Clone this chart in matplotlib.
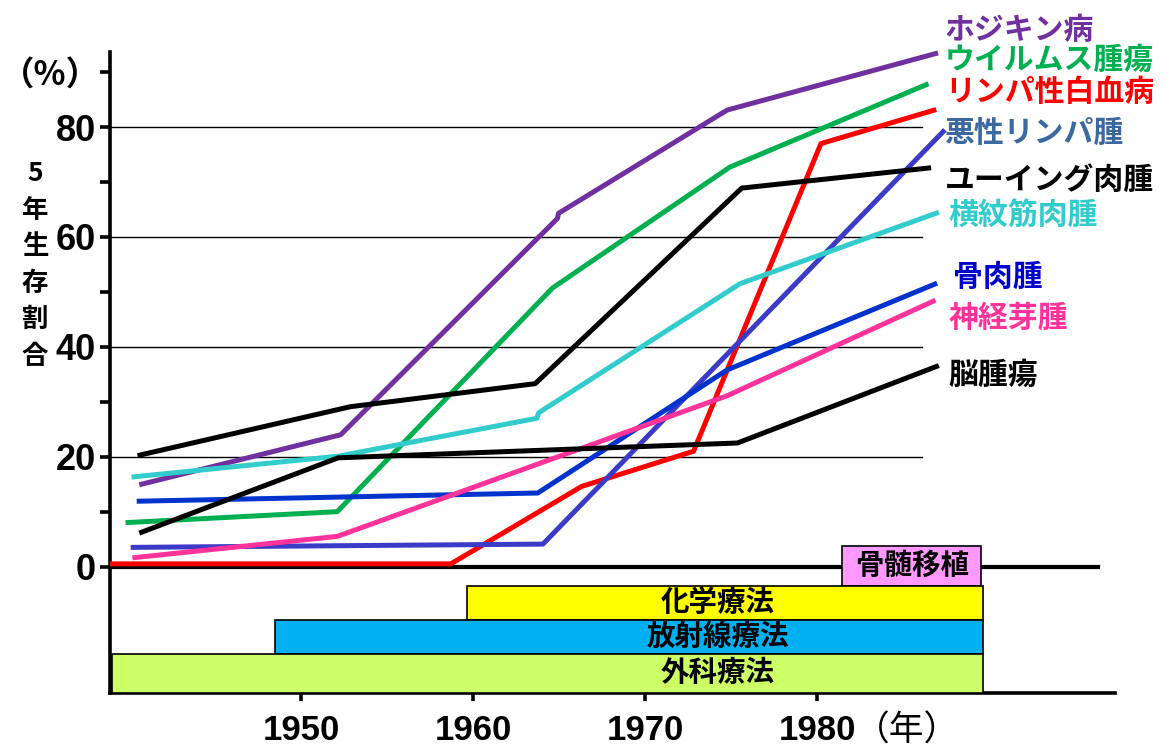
import matplotlib.pyplot as plt

plt.rcParams['font.family'] = ['Noto Sans CJK JP', 'DejaVu Sans']

# 5-year survival (%) by year
hodgkin_x = [1940.6, 1952.3, 1964.9, 1964.95, 1974.75, 1987.0]
hodgkin_y = [14.9, 24.0, 63.4, 64.3, 83.1, 93.5]

wilms_x = [1939.8, 1952.1, 1964.6, 1974.9, 1986.45]
wilms_y = [8.0, 10.0, 50.7, 72.7, 87.9]

leukemia_x = [1938.9, 1958.7, 1966.3, 1972.8, 1980.2, 1986.9]
leukemia_y = [0.5, 0.5, 14.6, 21.0, 77.0, 83.2]

lymphoma_x = [1940.1, 1964.05, 1987.4]
lymphoma_y = [3.5, 4.1, 79.5]

ewing_x = [1940.5, 1952.85, 1963.6, 1975.6, 1986.6]
ewing_y = [20.2, 29.1, 33.3, 68.9, 72.6]

rhabdo_x = [1940.15, 1952.15, 1963.7, 1963.8, 1975.5, 1987.05]
rhabdo_y = [16.3, 20.1, 27.0, 28.0, 51.5, 64.5]

osteo_x = [1940.45, 1963.75, 1974.75, 1986.95]
osteo_y = [11.9, 13.4, 35.8, 51.6]

neuro_x = [1940.2, 1952.1, 1974.75, 1986.85]
neuro_y = [1.6, 5.5, 31.1, 48.5]

brain_x = [1940.6, 1952.15, 1975.35, 1987.05]
brain_y = [6.1, 19.8, 22.5, 36.6]

series = [
    ('ホジキン病', hodgkin_x, hodgkin_y, '#7030A0', '#7030A0'),
    ('ウイルムス腫瘍', wilms_x, wilms_y, '#00B050', '#00B050'),
    ('リンパ性白血病', leukemia_x, leukemia_y, '#FF0000', '#FF0000'),
    ('悪性リンパ腫', lymphoma_x, lymphoma_y, '#3B3BC8', '#3C68A0'),
    ('ユーイング肉腫', ewing_x, ewing_y, '#000000', '#000000'),
    ('横紋筋肉腫', rhabdo_x, rhabdo_y, '#33CCCC', '#33CCCC'),
    ('骨肉腫', osteo_x, osteo_y, '#0033CC', '#0000CC'),
    ('神経芽腫', neuro_x, neuro_y, '#FF3399', '#FF3399'),
    ('脳腫瘍', brain_x, brain_y, '#000000', '#000000'),
]
# where each series name sits (year, %)
label_pos = [(1987.4, 97.6), (1987.4, 92.2), (1987.4, 86.4), (1987.4, 78.9),
             (1987.4, 70.4), (1987.6, 64.0), (1987.9, 52.7), (1987.6, 45.3),
             (1987.6, 34.9)]

# treatments: name, start year, end year, colour
treatments = ['骨髄移植', '化学療法', '放射線療法', '外科療法']
treat_start = [1981.45, 1959.65, 1948.5, 1939.0]
treat_end = [1989.5, 1989.6, 1989.6, 1989.6]
treat_colors = ['#FF99FF', '#FFFF00', '#00B0F0', '#CCFF66']
treat_rows = [(-3.6, 3.8), (-9.7, -3.6), (-15.9, -9.7), (-23.0, -15.9)]

fig = plt.figure(figsize=(11.73, 7.49), dpi=100)
ax = fig.add_axes([0.0938, 0.0748, 0.857, 0.856])
ax.set_xlim(1938.9, 1997.3)
ax.set_ylim(-23.0, 93.7)

# grid lines and zero line
for g in [20, 40, 60, 80]:
    ax.plot([1938.9, 1986.1], [g, g], color='black', lw=1.0, zorder=1)
ax.plot([1938.9, 1996.3], [0, 0], color='black', lw=3.0, zorder=2)

# treatment bars
for name, s, e, c, (lo, hi) in zip(treatments, treat_start, treat_end,
                                   treat_colors, treat_rows):
    ax.bar(s, hi - lo, width=e - s, bottom=lo, align='edge', color=c,
           edgecolor='black', linewidth=1.2, zorder=3)
    tx = (s + e) / 2 if name == '骨髄移植' else 1974.2
    ax.text(tx, (lo + hi) / 2, name, ha='center', va='center', fontsize=20.5,
            fontweight='bold', color='black', zorder=4)

# survival lines
for (name, xs, ys, lc, tc), (lx, ly) in zip(series, label_pos):
    ax.plot(xs, ys, color=lc, lw=3.6, solid_capstyle='butt', zorder=5,
            clip_on=False)
    ax.text(lx, ly, name, color=tc, fontsize=21.5, fontweight='bold',
            ha='left', va='center', clip_on=False)

# axes styling
for side in ['top', 'right']:
    ax.spines[side].set_visible(False)
ax.spines['left'].set_linewidth(2.6)
ax.spines['bottom'].set_linewidth(2.6)

ax.set_yticks(range(0, 91, 10))
ax.set_yticklabels(['0', '', '20', '', '40', '', '60', '', '80', ''],
                   fontsize=26, fontweight='bold',
                   family=['Liberation Sans', 'DejaVu Sans'])
ax.tick_params(axis='y', direction='out', length=7, width=2.6, pad=3)

ax.set_xticks([1950, 1960, 1970, 1980])
ax.set_xticklabels(['1950', '1960', '1970', '1980'], fontsize=25,
                   fontweight='bold',
                   family=['Liberation Sans', 'DejaVu Sans'])
ax.tick_params(axis='x', direction='out', length=6, width=2.6, pad=9)

ax.text(1985.2, -30.0, '（年）', ha='center', va='center', fontsize=25,
        clip_on=False)

fig.text(50 / 1173, 1 - 75 / 749, '（%）', ha='center', va='center',
         fontsize=24, fontweight='bold')
fig.text(35 / 1173, 1 - 265 / 749, '5\n年\n生\n存\n割\n合', ha='center',
         va='center', fontsize=19, fontweight='bold', linespacing=1.45)

fig.savefig('out.png', dpi=100)
